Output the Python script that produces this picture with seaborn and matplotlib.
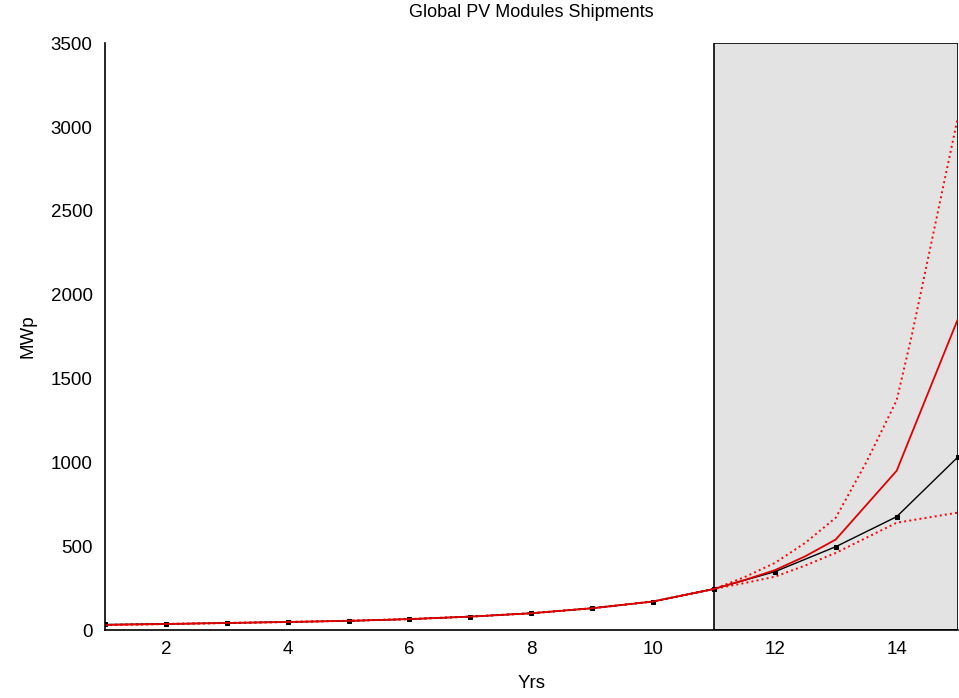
import matplotlib
matplotlib.use("Agg")
import matplotlib.pyplot as plt
import seaborn as sns
import pandas as pd
from matplotlib.patches import Rectangle

sns.set_style("white")
plt.rcParams['font.family'] = ['Liberation Sans', 'DejaVu Sans']
plt.rcParams['text.color'] = 'black'
plt.rcParams['axes.labelcolor'] = 'black'

years = [1, 2, 3, 4, 5, 6, 7, 8, 9, 10, 11, 12, 13, 14, 15]
actual = [33, 36, 42, 48, 54, 65, 80, 100, 130, 170, 245, 348, 497, 676, 1030]

fine_years = [1, 2, 3, 4, 5, 6, 7, 8, 9, 10, 11, 11.5, 12, 12.5, 13, 13.5, 14, 14.25, 14.5, 14.75, 15]
model_mid = [30, 36, 42, 48, 55, 65, 80, 100, 130, 170, 245, 298, 357, 440, 540, 745, 950, 1175, 1400, 1625, 1850]
model_hi = [30, 36, 42, 48, 55, 65, 80, 100, 130, 170, 245, 315, 400, 520, 670, 1000, 1370, 1760, 2190, 2620, 3050]
model_lo = [30, 36, 42, 48, 55, 65, 80, 100, 130, 170, 245, 280, 318, 385, 460, 550, 640, 655, 670, 685, 700]

forecast_start = 11
forecast_end = 15

df_act = pd.DataFrame({"Yrs": years, "MWp": actual})
df_mod = pd.DataFrame({"Yrs": fine_years, "mid": model_mid, "hi": model_hi, "lo": model_lo})

fig = plt.figure(figsize=(9.59, 6.98), dpi=100)
ax = fig.add_axes([0.1095, 0.0974, 0.889, 0.8406])

ax.add_patch(Rectangle((forecast_start, 0), forecast_end - forecast_start, 3500,
                       facecolor="#e3e3e3", edgecolor="black", linewidth=1.2, zorder=0))

sns.lineplot(data=df_mod, x="Yrs", y="hi", ax=ax, color="red", linestyle=":", linewidth=1.4)
sns.lineplot(data=df_mod, x="Yrs", y="lo", ax=ax, color="red", linestyle=":", linewidth=1.4)
sns.lineplot(data=df_act, x="Yrs", y="MWp", ax=ax, color="black", linewidth=1.0,
             marker="s", markersize=3.5, markeredgecolor="black")
sns.lineplot(data=df_mod, x="Yrs", y="mid", ax=ax, color="#e00000", linewidth=1.3)

ax.set_xlim(1, 15)
ax.set_ylim(0, 3500)
ax.set_xticks([2, 4, 6, 8, 10, 12, 14])
ax.set_yticks([0, 500, 1000, 1500, 2000, 2500, 3000, 3500])
ax.tick_params(direction="in", length=5, labelsize=13.5, width=1, colors="black")
ax.tick_params(axis="x", pad=8)
ax.tick_params(axis="y", pad=9)
for s in ["top", "right"]:
    ax.spines[s].set_visible(False)
for s in ["left", "bottom"]:
    ax.spines[s].set_color("black")
    ax.spines[s].set_linewidth(1.2)
ax.set_xlabel("Yrs", fontsize=13.5, labelpad=12)
ax.set_ylabel("MWp", fontsize=13.5, labelpad=10)
ax.set_title("Global PV Modules Shipments", fontsize=13, pad=19)

fig.savefig("out.png", dpi=100)
